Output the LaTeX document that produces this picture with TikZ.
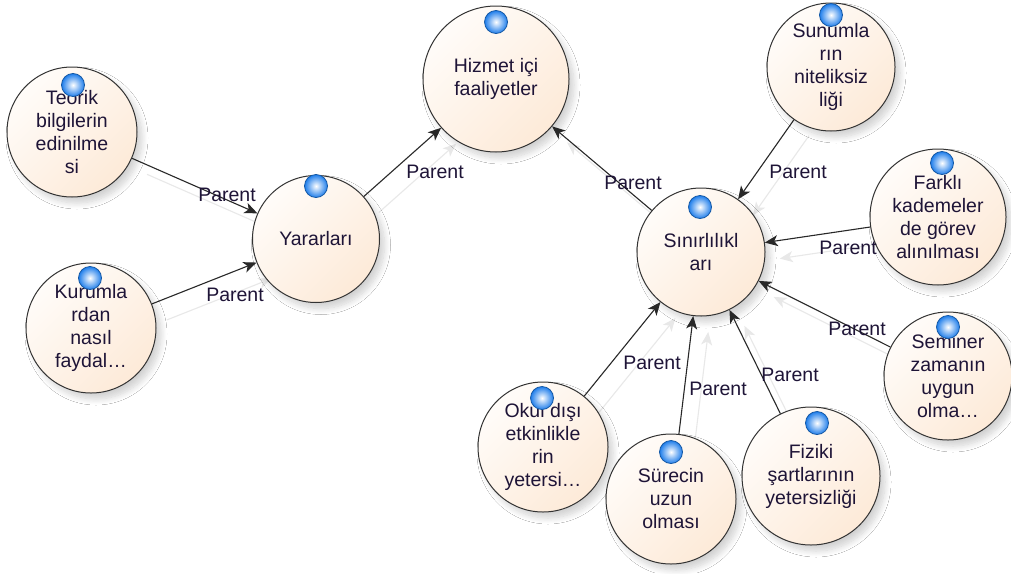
\documentclass[tikz,border=0pt]{standalone}
\usepackage{fontspec}
\setmainfont{Liberation Sans}
\usetikzlibrary{arrows.meta,shadows.blur}
\definecolor{peachA}{RGB}{255,252,249}
\definecolor{peachB}{RGB}{253,234,216}
\definecolor{ink}{RGB}{30,20,55}
\definecolor{edgegray}{RGB}{40,40,40}
\definecolor{ghostgray}{RGB}{232,232,232}
\definecolor{ballblue}{RGB}{30,125,235}
\pgfdeclarelayer{bg}
\pgfsetlayers{bg,main}
\begin{document}
\begin{tikzpicture}[x=1pt,y=-1pt,
  topic/.style={circle, draw=black!80, line width=1pt, inner sep=0pt, minimum size=#1,
    top color=peachA, bottom color=peachB, shading angle=45, text=ink, align=center,
    font=\fontsize{19.5}{23}\selectfont,
    blur shadow={shadow xshift=5pt, shadow yshift=-6pt, shadow blur steps=10, shadow blur radius=6pt, shadow opacity=18}},
  conn/.style={draw=edgegray, line width=1.1pt, -{Stealth[length=13pt,width=11pt,inset=3.5pt]}},
  ghost/.style={draw=ghostgray, line width=1.1pt, -{Stealth[length=13pt,width=11pt,inset=3.5pt]}},
  ballnode/.style={circle, inner sep=0pt, minimum size=23pt, draw=ballblue!70!black, line width=0.8pt,
    inner color=white, outer color=ballblue},
  lbl/.style={text=ink, font=\fontsize{19.5}{23}\selectfont, inner sep=0pt}]
\useasboundingbox (0,0) rectangle (1011,573);

% topics
\node[topic=146] (hiz) at (496,79) {Hizmet içi\\faaliyetler};
\node[topic=130] (teo) at (72,132) {Teorik\\bilgilerin\\edinilme\\si};
\node[topic=127] (yar) at (316,239) {Yararları};
\node[topic=130] (kur) at (91,328) {Kurumla\\rdan\\nasıl\\faydal…};
\node[topic=128] (sin) at (701,252) {Sınırlılıkl\\arı};
\node[topic=128] (sun) at (831,67) {Sunumla\\rın\\niteliksiz\\liği};
\node[topic=136] (far) at (938,217) {Farklı\\kademeler\\de görev\\alınılması};
\node[topic=128] (sem) at (948,376) {Seminer\\zamanın\\uygun\\olma…};
\node[topic=130] (oku) at (543,447) {Okul dışı\\etkinlikle\\rin\\yetersi…};
\node[topic=130] (sur) at (671,499) {Sürecin\\uzun\\olması};
\node[topic=138] (fiz) at (811,476) {Fiziki\\şartlarının\\yetersizliği};

% background and connector shadows
\begin{pgfonlayer}{bg}
\fill[white] (0,0) rectangle (1011,573);
\begin{scope}[transform canvas={shift={(15pt,-16pt)}}]
\draw[ghost] (teo) -- (yar);
\draw[ghost] (kur) -- (yar);
\draw[ghost] (yar) -- (hiz);
\draw[ghost] (sin) -- (hiz);
\draw[ghost] (sun) -- (sin);
\draw[ghost] (far) -- (sin);
\draw[ghost] (sem) -- (sin);
\draw[ghost] (fiz) -- (sin);
\draw[ghost] (sur) -- (sin);
\draw[ghost] (oku) -- (sin);
\end{scope}
\end{pgfonlayer}

% connectors
\draw[conn] (teo) -- (yar);
\draw[conn] (kur) -- (yar);
\draw[conn] (yar) -- (hiz);
\draw[conn] (sin) -- (hiz);
\draw[conn] (sun) -- (sin);
\draw[conn] (far) -- (sin);
\draw[conn] (sem) -- (sin);
\draw[conn] (fiz) -- (sin);
\draw[conn] (sur) -- (sin);
\draw[conn] (oku) -- (sin);

% labels
\node[lbl] (l1) at (227,195) {Parent};
\node[lbl] (l2) at (235,295) {Parent};
\node[lbl] (l3) at (435,172) {Parent};
\node[lbl] (l4) at (633,183) {Parent};
\node[lbl] (l5) at (798,172) {Parent};
\node[lbl] (l6) at (848,248) {Parent};
\node[lbl] (l7) at (857,329) {Parent};
\node[lbl] (l8) at (790,375) {Parent};
\node[lbl] (l9) at (718,389) {Parent};
\node[lbl] (l10) at (652,363) {Parent};

% balls
\node[ballnode] (b1) at (496,22) {};
\node[ballnode] (b2) at (73,85) {};
\node[ballnode] (b3) at (316,186) {};
\node[ballnode] (b4) at (90,278) {};
\node[ballnode] (b5) at (700,207) {};
\node[ballnode] (b6) at (831,15) {};
\node[ballnode] (b7) at (942,163) {};
\node[ballnode] (b8) at (948,327) {};
\node[ballnode] (b9) at (542,398) {};
\node[ballnode] (b10) at (671,452) {};
\node[ballnode] (b11) at (817,423) {};
\end{tikzpicture}
\end{document}
